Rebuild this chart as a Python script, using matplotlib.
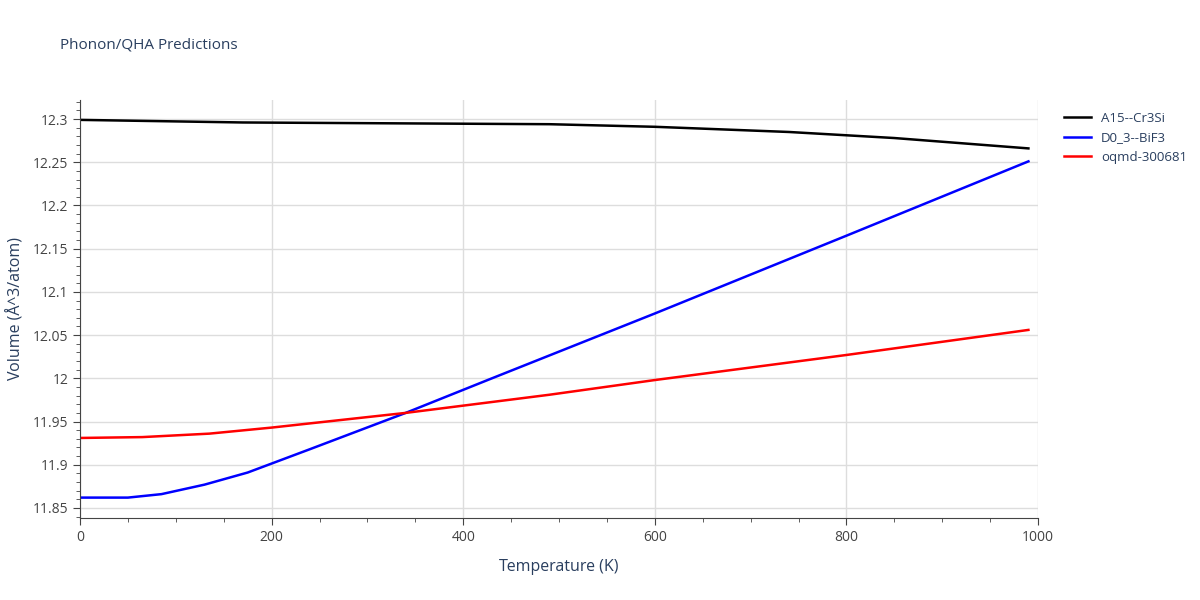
import matplotlib.pyplot as plt
import numpy as np
from matplotlib.ticker import MultipleLocator

plt.rcParams["font.family"] = "Open Sans"

temp_a15 = [0, 170, 490, 600, 740, 850, 990]
vol_a15 = [12.299, 12.296, 12.294, 12.291, 12.285, 12.278, 12.266]
temp_d03 = [0, 50, 85, 130, 175, 240, 340, 430, 600, 800, 990]
vol_d03 = [11.862, 11.862, 11.866, 11.877, 11.891, 11.918, 11.96, 12.0, 12.075, 12.165, 12.251]
temp_oq = [0, 65, 135, 200, 340, 490, 600, 800, 990]
vol_oq = [11.931, 11.932, 11.936, 11.943, 11.96, 11.981, 11.998, 12.027, 12.056]

fig = plt.figure(figsize=(12, 6), dpi=100)
ax = fig.add_axes([80 / 1200, 82 / 600, 958 / 1200, 418 / 600])
ax.plot(temp_a15, vol_a15, color="black", lw=1.8, label="A15--Cr3Si")
ax.plot(temp_d03, vol_d03, color="blue", lw=1.8, label="D0_3--BiF3")
ax.plot(temp_oq, vol_oq, color="red", lw=1.8, label="oqmd-300681")

ax.set_xlim(0, 1000)
ax.set_ylim(11.8384, 12.322)
ax.xaxis.set_major_locator(MultipleLocator(200))
ax.xaxis.set_minor_locator(MultipleLocator(50))
ax.yaxis.set_minor_locator(MultipleLocator(0.01))
ax.set_yticks(np.arange(11.85, 12.31, 0.05))
ax.set_yticklabels(["11.85", "11.9", "11.95", "12", "12.05", "12.1", "12.15", "12.2", "12.25", "12.3"])
ax.grid(True, which="major", color="#dddddd", lw=1)
ax.set_axisbelow(True)
for s in ["top", "right"]:
    ax.spines[s].set_visible(False)
for s in ["left", "bottom"]:
    ax.spines[s].set_color("#444444")
ax.tick_params(which="both", colors="#444444", labelsize=10, direction="out")
ax.tick_params(which="major", length=5)
ax.tick_params(which="minor", length=3)
ax.set_xlabel("Temperature (K)", color="#2a3f5f", fontsize=11.5, labelpad=10)
ax.set_ylabel("Volume (Å^3/atom)", color="#2a3f5f", fontsize=11.5, labelpad=6)
fig.text(60 / 1200, 1 - 45 / 600, "Phonon/QHA Predictions", color="#2a3f5f", fontsize=11, va="center")
leg = ax.legend(loc="upper left", bbox_to_anchor=(1.015, 1.0), frameon=False, fontsize=9.5, handlelength=2)
for t in leg.get_texts():
    t.set_color("#2a3f5f")

fig.savefig("out.png")
